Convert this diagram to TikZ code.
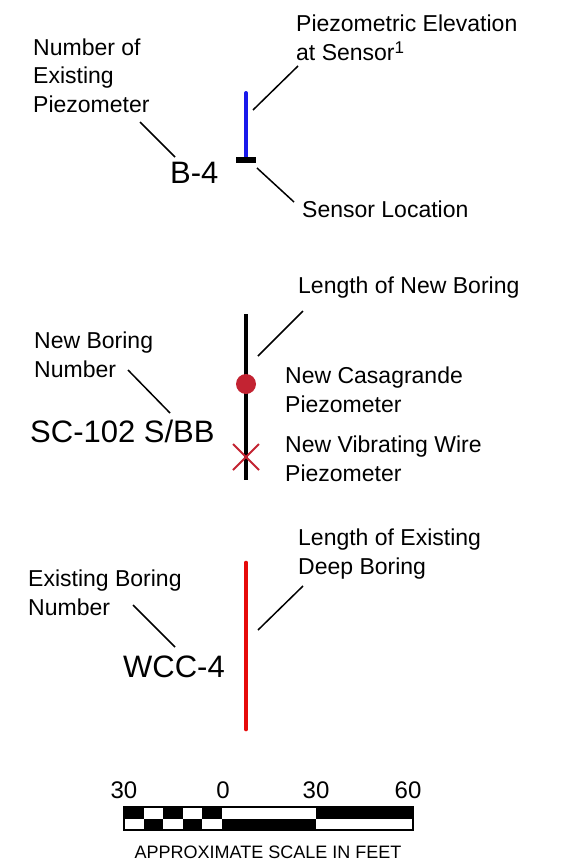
\documentclass[tikz,border=0pt]{standalone}
\usepackage{fontspec}
\setmainfont{Liberation Sans}
\usetikzlibrary{positioning,calc}
\definecolor{PiezoBlue}{RGB}{25,25,235}
\definecolor{BoreRed}{RGB}{230,10,10}
\definecolor{MarkRed}{RGB}{195,35,50}
\tikzset{lbl/.style={inner sep=0pt,anchor=base west,align=left,font=\fontsize{23}{28.5}\selectfont}, idlbl/.style={inner sep=0pt,anchor=base west,font=\fontsize{31}{31}\selectfont}, leader/.style={line width=1.5pt}, boring/.style={line width=4pt,line cap=round}, scalenum/.style={inner sep=0pt,anchor=base,font=\fontsize{24}{24}\selectfont}}

\begin{document}
\begin{tikzpicture}[x=1pt,y=-1pt]
\useasboundingbox (0,0) rectangle (563,862);
% existing piezometer (base = last line)
\node[lbl] (numpz) at (33,112) {Number of\\Existing\\Piezometer};
\node[idlbl] (bfour) at (170,183) {B-4};
\node[lbl] (elev) at (296,60) {Piezometric Elevation\\at Sensor\raisebox{7pt}{\fontsize{17}{17}\selectfont 1}};
\node[lbl] (senloc) at (302,217) {Sensor Location};
\coordinate (pztop) at (246,93);
\coordinate (pzbot) at (246,160);
\draw[boring,draw=PiezoBlue] (pztop)--(pzbot);
\draw[line width=6pt] (236,160)--(256,160);
\coordinate (la) at (140,122);
\coordinate (lb) at (175,157);
\coordinate (lc) at (253,110);
\coordinate (ld) at (298,66);
\coordinate (le) at (257,168);
\coordinate (lf) at (294,202);
\draw[leader] (la)--(lb);
\draw[leader] (lc)--(ld);
\draw[leader] (le)--(lf);
% new boring
\node[lbl] (newlen) at (298,293) {Length of New Boring};
\node[lbl] (newnum) at (34,377) {New Boring\\Number};
\node[idlbl] (scid) at (30,442) {SC-102 S/BB};
\node[lbl] (casa) at (285,412) {New Casagrande\\Piezometer};
\node[lbl] (vwire) at (285,481) {New Vibrating Wire\\Piezometer};
\coordinate (nbtop) at (246,314);
\coordinate (nbbot) at (246,480);
\draw[boring,line cap=butt] (nbtop)--(nbbot);
\fill[MarkRed] (246,384) circle (10);
\draw[MarkRed,line width=1.8pt] (233,444)--(259,470) (233,470)--(259,444);
\coordinate (lg) at (258,356);
\coordinate (lh) at (303,311);
\coordinate (li) at (128,370);
\coordinate (lj) at (170,413);
\draw[leader] (lg)--(lh);
\draw[leader] (li)--(lj);
% existing deep boring
\node[lbl] (exlen) at (298,574) {Length of Existing\\Deep Boring};
\node[lbl] (exnum) at (28,615) {Existing Boring\\Number};
\node[idlbl] (wcc) at (123,677) {WCC-4};
\coordinate (ebtop) at (246,563);
\coordinate (ebbot) at (246,729);
\draw[boring,line width=4.7pt,draw=BoreRed] (ebtop)--(ebbot);
\coordinate (lk) at (258,630);
\coordinate (ll) at (303,586);
\coordinate (lm) at (133,605);
\coordinate (ln) at (175,647);
\draw[leader] (lk)--(ll);
\draw[leader] (lm)--(ln);
% scale bar
\foreach \i in {0,...,4}{
  \pgfmathsetmacro{\xa}{124+19.6*\i}
  \pgfmathsetmacro{\xb}{124+19.6*(\i+1)}
  \ifodd\i
    \fill (\xa,818.5) rectangle (\xb,830);
  \else
    \fill (\xa,807) rectangle (\xb,818.5);
  \fi
}
\fill (222,818.5) rectangle (316,830);
\fill (316,807) rectangle (413,818.5);
\draw[line width=2pt] (124,807) rectangle (413,830);
\node[scalenum] (sa) at (124,798) {30};
\node[scalenum] (sb) at (223,798) {0};
\node[scalenum] (sc) at (316,798) {30};
\node[scalenum] (sd) at (408,798) {60};
\node[inner sep=0pt,anchor=base,font=\fontsize{18}{18}\selectfont] (scalettl) at (268,858) {APPROXIMATE SCALE IN FEET};
\end{tikzpicture}
\end{document}
